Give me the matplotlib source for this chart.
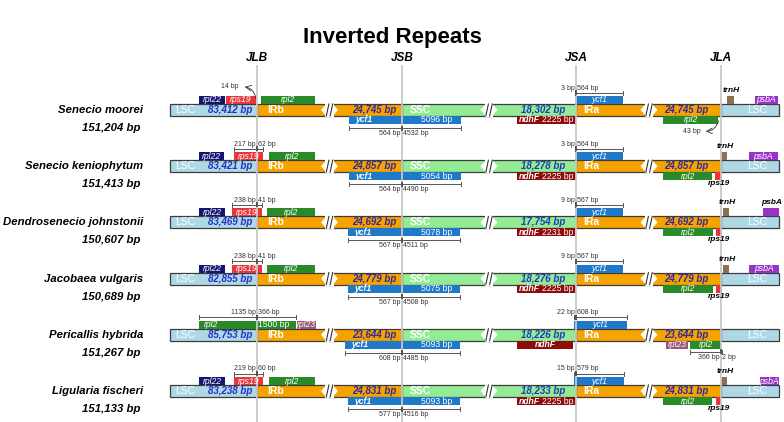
import matplotlib
matplotlib.use('Agg')
import matplotlib.pyplot as plt
from matplotlib.patches import Rectangle, Polygon

plt.rcParams['font.family'] = ['Liberation Sans', 'DejaVu Sans']

# values
species = ['Senecio moorei', 'Senecio keniophytum', 'Dendrosenecio johnstonii',
           'Jacobaea vulgaris', 'Pericallis hybrida', 'Ligularia fischeri']
genome_bp = [151204, 151413, 150607, 150689, 151267, 151133]
lsc_bp = [83412, 83421, 83469, 82855, 85753, 83238]
ir_bp = [24745, 24857, 24692, 24779, 23644, 24831]
ssc_bp = [18302, 18278, 17754, 18276, 18226, 18233]
ycf1_bp = [5096, 5054, 5078, 5075, 5093, 5093]
ycf1_irb_part = [564, 564, 567, 567, 608, 577]
ycf1_ssc_part = [4532, 4490, 4511, 4508, 4485, 4516]
ndhf_bp = [2225, 2225, 2231, 2225, None, 2225]
jsa_ssc_part = [3, 3, 9, 9, 22, 15]
jsa_ira_part = [564, 564, 567, 567, 608, 579]
jlb_lsc_part = [14, 217, 238, 238, 1135, 219]
jlb_irb_part = [None, 62, 41, 41, 366, 60]
rpl2_jlb_bp = 1500
jla_ira_part = [43, None, None, None, 366, None]
jla_lsc_part = [None, None, None, None, 2, None]
junctions = ['JLB', 'JSB', 'JSA', 'JLA']

# layout (pixels of the 784x422 canvas)
JX = [257, 402, 576, 721]
BAR_X0, BAR_X1 = 170, 779
ROW_Y0, ROW_STEP = 110, 56.2
BREAKS = [329.5, 489, 649]

COL = {'LSC': '#add8e6', 'IR': '#f6a300', 'SSC': '#93ec93',
       'rpl22': '#15156f', 'rps19': '#e8363c', 'rpl2': '#2a8a2a',
       'ycf1': '#1f78c8', 'ndhF': '#8e0c0c', 'trnH': '#8b7150',
       'psbA': '#9a32c8', 'rpl23': '#9a5878'}

top_genes = [
    [('rpl22', 199, 225), ('rps19', 226, 256), ('rpl2', 261, 315), ('ycf1', 575, 623), ('trnH', 727, 734), ('psbA', 755, 778)],
    [('rpl22', 199, 224), ('rps19', 234, 263), ('rpl2', 269, 315), ('ycf1', 575, 623), ('trnH', 721, 727), ('psbA', 749, 778)],
    [('rpl22', 199, 225), ('rps19', 232, 262), ('rpl2', 267, 315), ('ycf1', 575, 623), ('trnH', 723, 729), ('psbA', 763, 779)],
    [('rpl22', 199, 225), ('rps19', 232, 262), ('rpl2', 267, 315), ('ycf1', 575, 623), ('trnH', 723, 729), ('psbA', 749, 779)],
    [('rpl2', 199, 296), ('rpl23', 297, 316), ('ycf1', 574, 627)],
    [('rpl22', 199, 225), ('rps19', 234, 263), ('rpl2', 269, 315), ('ycf1', 574, 624), ('trnH', 721, 727), ('psbA', 760, 779)],
]
bottom_genes = [
    [('ycf1', 349, 461), ('ndhF', 517, 576), ('rpl2', 663, 718)],
    [('ycf1', 349, 461), ('ndhF', 517, 576), ('rpl2', 663, 712), ('rps19', 715, 722)],
    [('ycf1', 348, 460), ('ndhF', 517, 575), ('rpl2', 663, 713), ('rps19', 716, 722)],
    [('ycf1', 348, 460), ('ndhF', 517, 576), ('rpl2', 663, 713), ('rps19', 716, 722)],
    [('ycf1', 345, 460), ('ndhF', 517, 573), ('rpl23', 666, 688), ('rpl2', 690, 721)],
    [('ycf1', 348, 460), ('ndhF', 517, 576), ('rpl2', 663, 712), ('rps19', 716, 721)],
]
# bracket spans
jlb_span = [None, (234, 263), (232, 262), (232, 262), (199, 296), (234, 263)]
jsb_span = [(349, 461), (349, 461), (348, 460), (348, 460), (345, 460), (348, 460)]
jsa_span = [(575, 623), (575, 623), (575, 623), (575, 623), (574, 627), (574, 624)]

fig = plt.figure(figsize=(7.84, 4.22), dpi=100)
ax = fig.add_axes([0, 0, 1, 1])
ax.set_xlim(0, 784)
ax.set_ylim(422, 0)
ax.axis('off')

ax.text(392, 37, 'Inverted Repeats', ha='center', va='center', fontsize=16, fontweight='bold')

for x, name in zip(JX, junctions):
    ax.plot([x, x], [66, 422], color='#c8c8c8', lw=1.3, zorder=5)
    ax.text(x, 58, name, ha='center', va='center', fontsize=8.5, fontweight='bold', style='italic')


def gene_box(x0, x1, y0, y1, color):
    ax.add_patch(Rectangle((x0, y0), x1 - x0, y1 - y0, facecolor=color, edgecolor='none', zorder=2))


def white_text(x, y, s, ha='center', bold=False, italic=True, size=6.2):
    ax.text(x, y, s, ha=ha, va='center', color='white', fontsize=size,
            fontweight='bold' if bold else 'normal', style='italic' if italic else 'normal', zorder=6)


def small_text(x, y, s, ha):
    ax.text(x, y, s, ha=ha, va='center', color='#333333', fontsize=5, zorder=6)


def bracket(x0, xm, x1, y, ty, ltxt, rtxt):
    ax.plot([x0, x1], [y, y], color='#555555', lw=0.7, zorder=6)
    for xe in (x0, x1):
        ax.plot([xe, xe], [y - 2, y + 2], color='#555555', lw=0.7, zorder=6)
    ax.add_patch(Rectangle((xm - 1, y - 2.5), 2, 5, facecolor='#555555', edgecolor='none', zorder=7))
    if ltxt:
        small_text(xm - 1.5, ty, ltxt, 'right')
    if rtxt:
        small_text(xm + 1.5, ty, rtxt, 'left')


def draw_break(bx, y):
    ax.add_patch(Rectangle((bx - 4.2, y - 7), 8.4, 14, facecolor='white', edgecolor='none', zorder=3))
    ax.add_patch(Polygon([(bx - 4, y - 5), (bx - 4, y + 5), (bx - 8.5, y)], closed=True,
                         facecolor='white', edgecolor='none', zorder=3))
    ax.add_patch(Polygon([(bx + 4, y - 5), (bx + 4, y + 5), (bx + 8.5, y)], closed=True,
                         facecolor='white', edgecolor='none', zorder=3))
    ax.plot([bx - 3.2, bx - 0.6], [y + 6, y - 6], color='#333333', lw=0.8, zorder=4)
    ax.plot([bx + 0.6, bx + 3.2], [y + 6, y - 6], color='#333333', lw=0.8, zorder=4)


for i in range(len(species)):
    y = ROW_Y0 + i * ROW_STEP

    ax.text(143, y, species[i], ha='right', va='center', fontsize=8.2, fontweight='bold', style='italic')
    ax.text(141, y + 18, f'{genome_bp[i]:,} bp', ha='right', va='center', fontsize=8.2,
            fontweight='bold', style='italic')

    # genome bar
    segs = [(BAR_X0, JX[0], 'LSC'), (JX[0], JX[1], 'IR'), (JX[1], JX[2], 'SSC'),
            (JX[2], JX[3], 'IR'), (JX[3], BAR_X1, 'LSC')]
    for x0, x1, k in segs:
        ax.add_patch(Rectangle((x0, y - 6), x1 - x0, 12, facecolor=COL[k], edgecolor='#3c3c3c',
                               lw=0.9, zorder=2))
    for bx in BREAKS:
        draw_break(bx, y)

    white_text(175, y, 'LSC', ha='left', italic=False, size=7.5)
    white_text(267, y, 'IRb', ha='left', italic=False, bold=True, size=7.5)
    white_text(410, y, 'SSC', ha='left', italic=False, bold=True, size=7.5)
    white_text(583, y, 'IRa', ha='left', italic=False, bold=True, size=7.5)
    white_text(757, y, 'LSC', italic=False, size=7.5)
    bp_style = dict(ha='center', va='center', fontsize=7, fontweight='bold', style='italic', zorder=6)
    ax.text(230, y, f'{lsc_bp[i]:,} bp', color='#2630c0', **bp_style)
    ax.text(374, y, f'{ir_bp[i]:,} bp', color='#32289c', **bp_style)
    ax.text(543, y, f'{ssc_bp[i]:,} bp', color='#1c3cc0', **bp_style)
    ax.text(686, y, f'{ir_bp[i]:,} bp', color='#32289c', **bp_style)

    # genes above the bar
    for name, x0, x1 in top_genes[i]:
        gene_box(x0, x1, y - 14, y - 6, COL[name])
        cx = (x0 + x1) / 2
        if name == 'trnH' or (name == 'psbA' and i == 2):
            ax.text(cx + 1, y - 19.5, name, ha='center', va='center', fontsize=6,
                    fontweight='bold', style='italic', zorder=6)
        elif name == 'rpl2' and i == 4:
            white_text(x0 + 5, y - 10, 'rpl2', ha='left')
            white_text(274, y - 10, f'{rpl2_jlb_bp} bp', italic=False)
        else:
            white_text(cx, y - 10, name)

    # genes below the bar
    for name, x0, x1 in bottom_genes[i]:
        gene_box(x0, x1, y + 6, y + 14, COL[name])
        cx = (x0 + x1) / 2
        if name == 'ycf1':
            white_text(x0 + 6, y + 10, 'ycf1', ha='left', bold=True)
            white_text(437, y + 10, f'{ycf1_bp[i]} bp', italic=False)
        elif name == 'ndhF':
            if ndhf_bp[i] is None:
                white_text(cx, y + 10, 'ndhF', bold=True)
            else:
                white_text(540, y + 10, 'ndhF', ha='right', bold=True)
                white_text(542, y + 10, f'{ndhf_bp[i]} bp', ha='left', italic=False)
        elif name == 'rps19':
            ax.text(cx, y + 17.5, 'rps19', ha='center', va='center', fontsize=6,
                    fontweight='bold', style='italic', zorder=6)
        else:
            white_text(cx, y + 10, name)

    # junction brackets
    if jlb_span[i] is not None:
        x0, x1 = jlb_span[i]
        bracket(x0, JX[0], x1, y - 17.5, y - 22, f'{jlb_lsc_part[i]} bp', f'{jlb_irb_part[i]} bp')
    x0, x1 = jsb_span[i]
    bracket(x0, JX[1], x1, y + 18, y + 23.5, f'{ycf1_irb_part[i]} bp', f'{ycf1_ssc_part[i]} bp')
    x0, x1 = jsa_span[i]
    bracket(x0, JX[2], x1, y - 17.5, y - 22, f'{jsa_ssc_part[i]} bp', f'{jsa_ira_part[i]} bp')
    if jla_lsc_part[i] is not None:
        bracket(690, JX[3], JX[3] + 1, y + 17, y + 23, f'{jla_ira_part[i]} bp', f'{jla_lsc_part[i]} bp')

# distance call-outs with curved arrows (first row)
y = ROW_Y0
small_text(239, y - 23, f'{jlb_lsc_part[0]} bp', 'right')
ax.annotate('', xy=(242, y - 23.5), xytext=(256, y - 9),
            arrowprops=dict(arrowstyle='->', color='#333333', lw=0.6,
                            connectionstyle='arc3,rad=0.45'), zorder=6)
small_text(701, y + 21.5, f'{jla_ira_part[0]} bp', 'right')
ax.annotate('', xy=(703, y + 21.5), xytext=(719, y + 8),
            arrowprops=dict(arrowstyle='->', color='#333333', lw=0.6,
                            connectionstyle='arc3,rad=-0.45'), zorder=6)

fig.savefig('out.png', dpi=100)
